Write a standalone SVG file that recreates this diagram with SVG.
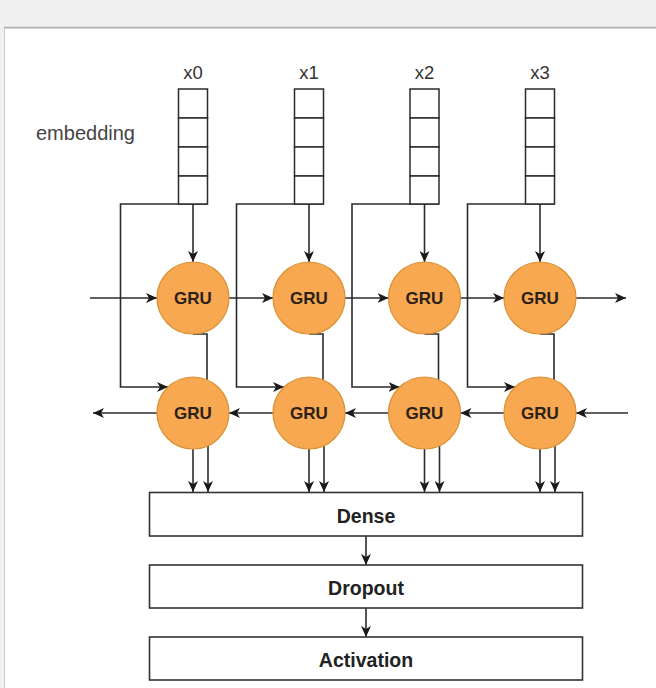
<svg xmlns="http://www.w3.org/2000/svg" width="656" height="688" viewBox="0 0 656 688">
<style>
.ln{fill:none;stroke:#2b2b2b;stroke-width:1.6}
.arr{marker-end:url(#ah)}
.cell{fill:#fff;stroke:#2b2b2b;stroke-width:1.5}
.gru{fill:#f8a850;stroke:#d99133;stroke-width:1.2}
.gt{font-family:"Liberation Sans",Arial,sans-serif;font-weight:bold;font-size:17px;fill:#2a2118;text-anchor:middle}
.lbl{font-family:"Liberation Sans",Arial,sans-serif;font-size:18.5px;fill:#333;text-anchor:middle}
.box{fill:#fff;stroke:#333;stroke-width:1.6}
.bt{font-family:"Liberation Sans",Arial,sans-serif;font-weight:bold;font-size:19.5px;fill:#222;text-anchor:middle}
</style>
<defs>
<marker id="ah" viewBox="0 0 11 10" markerWidth="11" markerHeight="10" refX="11" refY="5" orient="auto" markerUnits="userSpaceOnUse">
<path d="M0,0 L11,5 L0,10 L3,5 Z" fill="#1a1a1a"/>
</marker>
</defs>
<rect x="0" y="0" width="656" height="688" fill="#f0f0f0"/>
<rect x="4.5" y="28" width="700" height="700" fill="#fff" stroke="#cccccc" stroke-width="1"/>
<line x1="4" y1="27.5" x2="656" y2="27.5" stroke="#b0b0b0" stroke-width="1.5"/>

<text x="36" y="140" font-family="'Liberation Sans',Arial,sans-serif" font-size="20" fill="#444">embedding</text>

<g id="connectors">
<path class="ln arr" d="M193,204 V262"/>
<path class="ln arr" d="M309,204 V262"/>
<path class="ln arr" d="M424.5,204 V262"/>
<path class="ln arr" d="M540,204 V262"/>
<path class="ln arr" d="M207.5,204 H120.5 V387 H168"/>
<path class="ln arr" d="M323.5,204 H236.5 V387 H284"/>
<path class="ln arr" d="M439,204 H352 V387 H399.5"/>
<path class="ln arr" d="M554.5,204 H467.5 V387 H515"/>
<path class="ln" d="M193,334 H207 V380"/>
<path class="ln" d="M309,334 H323 V380"/>
<path class="ln" d="M424.5,334 H438.5 V380"/>
<path class="ln" d="M540,334 H554 V380"/>
<path class="ln arr" d="M90,298 H157"/>
<path class="ln arr" d="M229,298 H273"/>
<path class="ln arr" d="M345,298 H388.5"/>
<path class="ln arr" d="M460.5,298 H504"/>
<path class="ln arr" d="M576,298 H626"/>
<path class="ln arr" d="M628,413 H576"/>
<path class="ln arr" d="M504,413 H460.5"/>
<path class="ln arr" d="M388.5,413 H345"/>
<path class="ln arr" d="M273,413 H229"/>
<path class="ln arr" d="M157,413 H93"/>
<path class="ln arr" d="M193,449 V492"/>
<path class="ln arr" d="M208,446 V492"/>
<path class="ln arr" d="M309,449 V492"/>
<path class="ln arr" d="M324,446 V492"/>
<path class="ln arr" d="M424.5,449 V492"/>
<path class="ln arr" d="M439.5,446 V492"/>
<path class="ln arr" d="M540,449 V492"/>
<path class="ln arr" d="M555,446 V492"/>
<path class="ln arr" d="M366,536 V565"/>
<path class="ln arr" d="M366,608 V637"/>
</g>

<g id="emb0">
<text class="lbl" x="193" y="79">x0</text>
<rect class="cell" x="178.5" y="89" width="29" height="29"/>
<rect class="cell" x="178.5" y="118" width="29" height="29"/>
<rect class="cell" x="178.5" y="147" width="29" height="29"/>
<rect class="cell" x="178.5" y="176" width="29" height="28"/>
</g>
<g id="emb1">
<text class="lbl" x="309" y="79">x1</text>
<rect class="cell" x="294.5" y="89" width="29" height="29"/>
<rect class="cell" x="294.5" y="118" width="29" height="29"/>
<rect class="cell" x="294.5" y="147" width="29" height="29"/>
<rect class="cell" x="294.5" y="176" width="29" height="28"/>
</g>
<g id="emb2">
<text class="lbl" x="424.5" y="79">x2</text>
<rect class="cell" x="410" y="89" width="29" height="29"/>
<rect class="cell" x="410" y="118" width="29" height="29"/>
<rect class="cell" x="410" y="147" width="29" height="29"/>
<rect class="cell" x="410" y="176" width="29" height="28"/>
</g>
<g id="emb3">
<text class="lbl" x="540" y="79">x3</text>
<rect class="cell" x="525.5" y="89" width="29" height="29"/>
<rect class="cell" x="525.5" y="118" width="29" height="29"/>
<rect class="cell" x="525.5" y="147" width="29" height="29"/>
<rect class="cell" x="525.5" y="176" width="29" height="28"/>
</g>

<g id="gru_f0"><circle class="gru" cx="193" cy="298" r="36"/><text class="gt" x="193" y="304">GRU</text></g>
<g id="gru_f1"><circle class="gru" cx="309" cy="298" r="36"/><text class="gt" x="309" y="304">GRU</text></g>
<g id="gru_f2"><circle class="gru" cx="424.5" cy="298" r="36"/><text class="gt" x="424.5" y="304">GRU</text></g>
<g id="gru_f3"><circle class="gru" cx="540" cy="298" r="36"/><text class="gt" x="540" y="304">GRU</text></g>
<g id="gru_b0"><circle class="gru" cx="193" cy="413" r="36"/><text class="gt" x="193" y="419">GRU</text></g>
<g id="gru_b1"><circle class="gru" cx="309" cy="413" r="36"/><text class="gt" x="309" y="419">GRU</text></g>
<g id="gru_b2"><circle class="gru" cx="424.5" cy="413" r="36"/><text class="gt" x="424.5" y="419">GRU</text></g>
<g id="gru_b3"><circle class="gru" cx="540" cy="413" r="36"/><text class="gt" x="540" y="419">GRU</text></g>

<g id="dense"><rect class="box" x="149.5" y="492.5" width="433" height="43.5"/><text class="bt" x="366" y="523">Dense</text></g>
<g id="dropout"><rect class="box" x="149.5" y="565" width="433" height="43"/><text class="bt" x="366" y="594.5">Dropout</text></g>
<g id="activation"><rect class="box" x="149.5" y="637" width="433" height="43"/><text class="bt" x="366" y="666.5">Activation</text></g>
</svg>
